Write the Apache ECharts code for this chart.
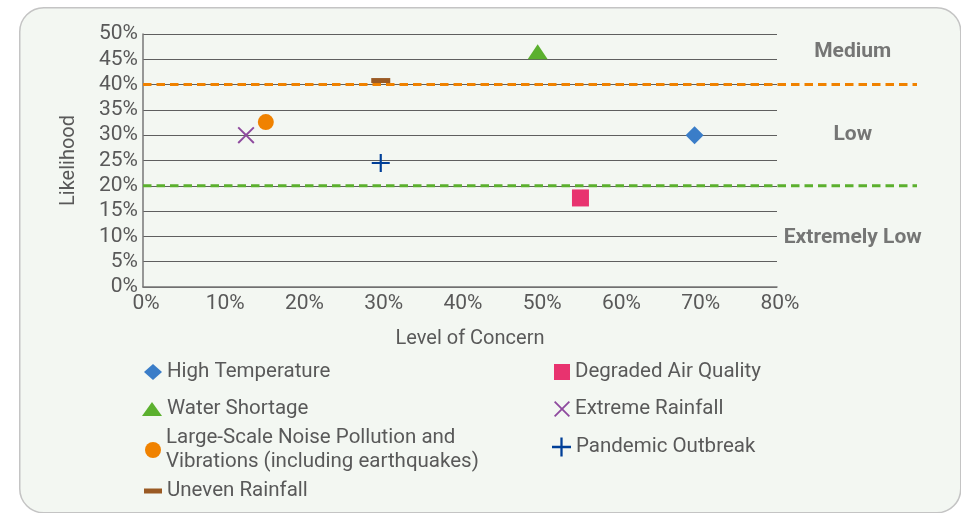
<!DOCTYPE html>
<html>
<head>
<meta charset="utf-8">
<script src="https://cdn.jsdelivr.net/npm/echarts@6/dist/echarts.min.js"></script>
<style>
html,body{margin:0;padding:0;background:#fff;}
#c{width:961px;height:513px;}
</style>
</head>
<body>
<div id="c"></div>
<script>
// ---- data ----
const seriesNames = ['High Temperature', 'Degraded Air Quality', 'Water Shortage', 'Extreme Rainfall',
  'Large-Scale Noise Pollution and\nVibrations (including earthquakes)', 'Pandemic Outbreak', 'Uneven Rainfall'];
const concern = [69.6, 55.2, 49.8, 13, 15.5, 30, 30];          // Level of Concern (%)
const likelihood = [30, 17.6, 46.5, 30, 32.6, 24.5, 40.8];     // Likelihood (%)
const thresholdValues = [40, 20];                               // dashed threshold lines (%)
const thresholdSpan = [0, 1];
const regionLabels = ['Medium', 'Low', 'Extremely Low'];
const regionLabelY = [46.4, 30, 9.8];
const regionLabelX = 0.917;
const xTicks = [0, 80, 10];
const yTicks = [0, 50, 5];

// ---- styles ----
const txt = '#595959';
const FONT = 'Roboto';
const colors = ['#3A7DC8', '#E8336F', '#5BB02E', '#8E4A9E', '#F08200', '#003F98', '#9A5A24'];
const xPath = 'path://M0,1.6L1.6,0L10,8.4L18.4,0L20,1.6L11.6,10L20,18.4L18.4,20L10,11.6L1.6,20L0,18.4L8.4,10Z';
const plusPath = 'path://M0,8.8h8.8V0h2.4v8.8H20v2.4h-8.8V20H8.8v-8.8H0Z';
const symbols = ['diamond', 'rect', 'triangle', xPath, 'circle', plusPath, 'rect'];
const symbolSizes = [18, 17, [20, 15], 17, 16, 18, [19, 5]];
const legendIcons = ['path://M9,0L18,8L9,16L0,8Z', 'rect', 'path://M10,0L20,14L0,14Z', xPath, 'circle', plusPath, 'path://M0,0h18v5H0Z'];
const legendIconSize = [[18,16],[16,16],[20,14],[16,16],[16,17],[19,19],[18,5]];
const legendPos = [[144,360],[554,360],[142,397],[554,397],[145,426],[552,435],[144,479]];
const thresholdColors = ['#F08200', '#5BB02E'];

const chart = echarts.init(document.getElementById('c'), null, {renderer: 'canvas'});

const series = [];
seriesNames.forEach((n, i) => {
  series.push({
    name: n, type: 'scatter', xAxisIndex: 0, yAxisIndex: 0,
    symbol: symbols[i], symbolSize: symbolSizes[i],
    itemStyle: {color: colors[i], opacity: 1},
    data: [[concern[i], likelihood[i]]],
    z: 5
  });
});
thresholdValues.forEach((v, i) => {
  series.push({
    name: 'th' + i, type: 'line', xAxisIndex: 1, yAxisIndex: 1,
    data: thresholdSpan.map(x => [x, v]), symbol: 'none',
    lineStyle: {color: thresholdColors[i], width: 3, type: [8.5, 5]},
    z: 4, silent: true
  });
});
series.push({
  name: 'regions', type: 'scatter', xAxisIndex: 1, yAxisIndex: 1,
  symbolSize: 0, silent: true,
  data: regionLabels.map((l, i) => ({value: [regionLabelX, regionLabelY[i]], name: l})),
  label: {show: true, position: 'inside', formatter: p => p.name,
    fontFamily: FONT, fontSize: 21, fontWeight: 'bold', color: '#555555'}
});

const legends = seriesNames.map((n, i) => ({
  data: [{name: n, icon: legendIcons[i]}],
  left: legendPos[i][0], top: legendPos[i][1], padding: 0,
  itemWidth: legendIconSize[i][0], itemHeight: legendIconSize[i][1],
  textStyle: {fontFamily: FONT, fontSize: 20.5, color: txt, lineHeight: 24},
  selectedMode: false
}));

chart.setOption({
  animation: false,
  backgroundColor: '#ffffff',
  graphic: [{
    type: 'rect', left: 19, top: 7, z: -10,
    shape: {width: 941, height: 505, r: 24},
    style: {fill: '#F3F7F2', stroke: '#C4C4C4', lineWidth: 1.5}
  }],
  grid: [
    {left: 143, top: 34, width: 634, height: 253},
    {left: 143, top: 34, width: 774, height: 253}
  ],
  xAxis: [{
    type: 'value', gridIndex: 0, min: xTicks[0], max: xTicks[1], interval: xTicks[2],
    name: 'Level of Concern', nameLocation: 'middle', nameGap: 42,
    nameTextStyle: {fontFamily: FONT, fontSize: 20, color: txt, padding: [0, 0, 0, 20]},
    axisLine: {show: true, lineStyle: {color: '#777', width: 1.5}},
    axisTick: {show: false},
    splitLine: {show: false},
    axisLabel: {formatter: '{value}%', fontFamily: FONT, fontSize: 21, color: txt, margin: 6, padding: [0, 0, 0, 6]}
  }, {
    type: 'value', gridIndex: 1, min: 0, max: 1, show: false
  }],
  yAxis: [{
    type: 'value', gridIndex: 0, min: yTicks[0], max: yTicks[1], interval: yTicks[2],
    name: 'Likelihood', nameLocation: 'middle', nameGap: 64,
    nameTextStyle: {fontFamily: FONT, fontSize: 20, color: txt},
    axisLine: {show: true, lineStyle: {color: '#777', width: 1.5}},
    axisTick: {show: false},
    splitLine: {show: true, lineStyle: {color: '#5f5f5f', width: 1}},
    axisLabel: {formatter: '{value}%', fontFamily: FONT, fontSize: 21, color: txt, margin: 5, padding: [4, 0, 0, 0]}
  }, {
    type: 'value', gridIndex: 1, min: yTicks[0], max: yTicks[1], show: false
  }],
  legend: legends,
  series: series
});
</script>
</body>
</html>
